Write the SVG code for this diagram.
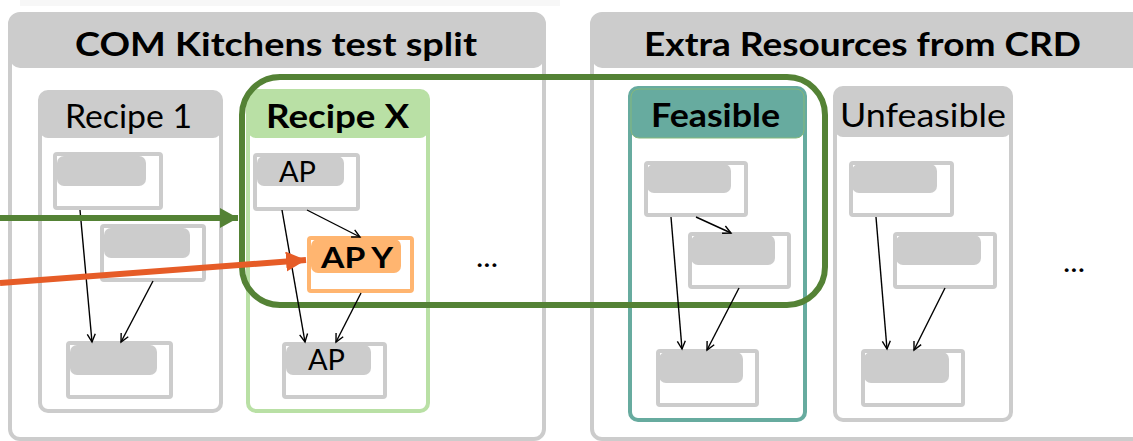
<svg xmlns="http://www.w3.org/2000/svg" width="1133" height="441" viewBox="0 0 1133 441">
  <style>
    .frame { fill: #ffffff; stroke: #cccccc; stroke-width: 4; }
    .hdr { fill: #cccccc; stroke: none; }
    .node { fill: #ffffff; stroke: #cccccc; stroke-width: 4; }
    .pill { fill: #cccccc; stroke: none; }
    .t { font-family: "Lato", "DejaVu Sans", sans-serif; fill: #000000; }
    .b { font-weight: bold; }
    .edge { fill: none; stroke: #000000; stroke-width: 1.4; marker-end: url(#tip); }
  </style>
  <defs>
    <marker id="tip" markerUnits="userSpaceOnUse" markerWidth="12" markerHeight="12" refX="9" refY="5" orient="auto">
      <path d="M1,1 L9,5 L1,9" fill="none" stroke="#000000" stroke-width="1.4"/>
    </marker>
    <marker id="headGreen" markerUnits="userSpaceOnUse" markerWidth="20" markerHeight="22" refX="18" refY="10" orient="auto">
      <path d="M0,0 L18,10 L0,20 Z" fill="#548235"/>
    </marker>
    <marker id="headOrange" markerUnits="userSpaceOnUse" markerWidth="22" markerHeight="22" refX="20" refY="10" orient="auto">
      <path d="M0,0 L20,10 L0,20 Z" fill="#e65c27"/>
    </marker>
  </defs>

  <rect width="1133" height="441" fill="#ffffff"/>
  <rect x="20" y="0" width="540" height="6" fill="#f7f7f7"/>

  <!-- outer panels -->
  <g id="panel-com">
    <rect class="frame" x="10" y="14" width="534" height="425" rx="10"/>
    <rect class="hdr" x="10" y="14" width="534" height="54" rx="10"/>
    <text class="t b" x="75" y="56" font-size="32" textLength="402" lengthAdjust="spacingAndGlyphs">COM Kitchens test split</text>
  </g>
  <g id="panel-crd">
    <rect class="frame" x="592" y="14" width="560" height="425" rx="10"/>
    <rect class="hdr" x="592" y="14" width="560" height="54" rx="10"/>
    <text class="t b" x="644" y="56" font-size="32" textLength="437" lengthAdjust="spacingAndGlyphs">Extra Resources from CRD</text>
  </g>

  <!-- recipe columns -->
  <g id="recipe-1">
    <rect class="frame" x="40" y="92" width="181" height="319" rx="8"/>
    <rect class="hdr" x="40" y="92" width="181" height="46" rx="8"/>
    <text class="t" x="65" y="128" font-size="32" textLength="127" lengthAdjust="spacingAndGlyphs">Recipe 1</text>
  </g>
  <g id="recipe-x">
    <rect x="248" y="91" width="180" height="320" rx="8" fill="#ffffff" stroke="#b9e0a5" stroke-width="4"/>
    <rect x="248" y="91" width="180" height="47" rx="8" fill="#b9e0a5"/>
    <text class="t b" x="266" y="128" font-size="32" textLength="143" lengthAdjust="spacingAndGlyphs">Recipe X</text>
  </g>
  <g id="more-recipes">
    <text class="t" x="476" y="267" font-size="28" textLength="22" lengthAdjust="spacingAndGlyphs">...</text>
  </g>
  <g id="feasible">
    <rect x="630" y="88" width="175" height="332" rx="8" fill="#ffffff" stroke="#67ab9f" stroke-width="4"/>
    <rect x="631" y="89" width="173" height="49" rx="8" fill="#67ab9f" stroke="#86b87a" stroke-width="1"/>
    <text class="t b" x="651" y="127" font-size="32" textLength="129" lengthAdjust="spacingAndGlyphs">Feasible</text>
  </g>
  <g id="unfeasible">
    <rect class="frame" x="835" y="88" width="176" height="332" rx="8"/>
    <rect class="hdr" x="835" y="88" width="176" height="49" rx="8"/>
    <text class="t" x="840" y="127" font-size="32" textLength="166" lengthAdjust="spacingAndGlyphs">Unfeasible</text>
  </g>
  <g id="more-resources">
    <text class="t" x="1063" y="272" font-size="28" textLength="22" lengthAdjust="spacingAndGlyphs">...</text>
  </g>

  <!-- selection outline spanning Recipe X and Feasible -->
  <g id="selection">
    <rect x="242" y="77" width="583" height="228" rx="38" fill="none" stroke="#548235" stroke-width="6"/>
  </g>

  <!-- action nodes -->
  <g id="r1-n1"><rect class="node" x="55" y="154" width="106" height="54" rx="2"/><rect class="pill" x="57" y="156" width="89" height="30" rx="7"/></g>
  <g id="r1-n2"><rect class="node" x="102" y="226" width="102" height="54" rx="2"/><rect class="pill" x="104" y="228" width="86" height="30" rx="7"/></g>
  <g id="r1-n3"><rect class="node" x="68" y="343" width="103" height="54" rx="2"/><rect class="pill" x="70" y="345" width="87" height="30" rx="7"/></g>

  <g id="rx-ap1"><rect class="node" x="255" y="155" width="103" height="54" rx="2"/><rect class="pill" x="257" y="156" width="87" height="30" rx="7"/>
    <text class="t" x="279" y="182" font-size="28" textLength="37" lengthAdjust="spacingAndGlyphs">AP</text></g>
  <g id="rx-apy"><rect x="309" y="238" width="103" height="53" rx="2" fill="#ffffff" stroke="#ffb570" stroke-width="4"/><rect x="311" y="239" width="90" height="34" rx="7" fill="#ffb570"/>
    <text class="t b" x="321" y="268" font-size="28" textLength="72" lengthAdjust="spacingAndGlyphs">AP Y</text></g>
  <g id="rx-ap2"><rect class="node" x="284" y="344" width="101" height="53" rx="2"/><rect class="pill" x="286" y="345" width="85" height="30" rx="7"/>
    <text class="t" x="308" y="370" font-size="28" textLength="37" lengthAdjust="spacingAndGlyphs">AP</text></g>

  <g id="fe-n1"><rect class="node" x="646" y="163" width="100" height="52" rx="2"/><rect class="pill" x="647" y="164" width="84" height="29" rx="7"/></g>
  <g id="fe-n2"><rect class="node" x="690" y="234" width="99" height="53" rx="2"/><rect class="pill" x="691" y="235" width="84" height="30" rx="7"/></g>
  <g id="fe-n3"><rect class="node" x="658" y="351" width="99" height="54" rx="2"/><rect class="pill" x="659" y="352" width="84" height="31" rx="7"/></g>

  <g id="un-n1"><rect class="node" x="851" y="163" width="101" height="52" rx="2"/><rect class="pill" x="852" y="164" width="85" height="29" rx="7"/></g>
  <g id="un-n2"><rect class="node" x="895" y="234" width="100" height="53" rx="2"/><rect class="pill" x="896" y="235" width="85" height="30" rx="7"/></g>
  <g id="un-n3"><rect class="node" x="863" y="351" width="100" height="54" rx="2"/><rect class="pill" x="864" y="352" width="85" height="31" rx="7"/></g>

  <!-- connectors -->
  <g id="connectors">
    <line class="edge" x1="80" y1="210" x2="92" y2="342"/>
    <line class="edge" x1="153" y1="281" x2="121" y2="342"/>

    <line class="edge" x1="282" y1="210" x2="305" y2="342"/>
    <line class="edge" x1="307" y1="210" x2="360" y2="237"/>
    <line class="edge" x1="361" y1="293" x2="336" y2="342"/>

    <line class="edge" x1="671" y1="217" x2="682" y2="349"/>
    <line class="edge" x1="696" y1="217" x2="731" y2="233"/>
    <line class="edge" x1="739" y1="288" x2="707" y2="350"/>

    <line class="edge" x1="876" y1="217" x2="887" y2="349"/>
    <line class="edge" x1="945" y1="288" x2="914" y2="350"/>

    <line x1="0" y1="218" x2="238" y2="218" stroke="#548235" stroke-width="6" marker-end="url(#headGreen)"/>
    <line x1="0" y1="283" x2="306" y2="260" stroke="#e65c27" stroke-width="6" marker-end="url(#headOrange)"/>
  </g>
</svg>
